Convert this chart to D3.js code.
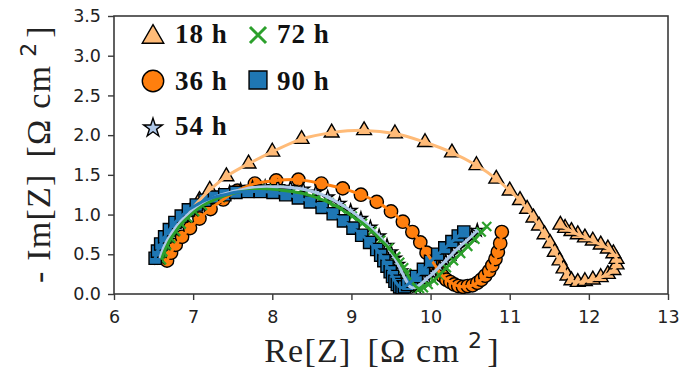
<!DOCTYPE html>
<html>
<head>
<meta charset="utf-8">
<script src="https://cdn.jsdelivr.net/npm/d3@7"></script>
<style>
  html, body { margin: 0; padding: 0; background: #fff; }
  svg { display: block; }
</style>
</head>
<body>
<svg id="chart" width="683" height="376"></svg>
<script>
// Nyquist data (Re[Z], -Im[Z]) in Ohm cm^2 for each ageing time
const re18 = [6.95,7.08,7.21,7.42,7.70,8.00,8.37,8.75,9.16,9.55,9.93,10.27,10.58,10.83,11.00,11.13,11.22,11.30,11.37,11.44,11.51,11.57,11.63,11.68,11.73,11.78,11.86,11.95,12.05,12.15,12.24,12.31,12.35,12.35,12.31,12.24,12.15,12.05,11.95,11.86,11.78,11.70,11.64];
const im18 = [1.03,1.18,1.31,1.48,1.64,1.79,1.95,2.03,2.06,2.02,1.91,1.78,1.62,1.45,1.30,1.18,1.07,0.96,0.86,0.75,0.64,0.53,0.42,0.32,0.23,0.17,0.15,0.16,0.18,0.21,0.25,0.30,0.37,0.44,0.51,0.57,0.62,0.67,0.71,0.75,0.79,0.83,0.87];

const re36 = [6.67,6.72,6.78,6.86,6.96,7.08,7.22,7.38,7.56,7.78,8.05,8.33,8.62,8.89,9.12,9.32,9.50,9.65,9.77,9.87,9.95,10.03,10.07,10.11,10.15,10.20,10.25,10.30,10.35,10.41,10.47,10.53,10.59,10.64,10.69,10.74,10.78,10.82,10.85,10.88,10.90];
const im36 = [0.42,0.52,0.62,0.72,0.83,0.95,1.07,1.19,1.30,1.39,1.43,1.44,1.39,1.33,1.25,1.16,1.04,0.91,0.78,0.65,0.52,0.40,0.34,0.28,0.23,0.18,0.15,0.12,0.10,0.09,0.10,0.11,0.14,0.18,0.23,0.29,0.36,0.44,0.53,0.64,0.78];

const re54 = [6.58,6.61,6.65,6.70,6.76,6.83,6.91,7.00,7.10,7.21,7.33,7.46,7.60,7.75,7.91,8.07,8.23,8.39,8.55,8.70,8.85,8.99,9.12,9.24,9.35,9.45,9.50,9.55,9.59,9.63,9.67,9.70,9.73,9.77,9.82,9.88,9.95,10.03,10.11,10.19,10.27,10.35,10.44,10.52,10.59];
const im54 = [0.45,0.54,0.63,0.72,0.81,0.90,0.98,1.06,1.13,1.19,1.24,1.28,1.31,1.34,1.35,1.35,1.34,1.32,1.28,1.22,1.14,1.05,0.95,0.84,0.73,0.61,0.53,0.45,0.37,0.29,0.21,0.15,0.10,0.08,0.09,0.13,0.19,0.26,0.34,0.42,0.50,0.58,0.66,0.73,0.80];

const re72 = [6.60,6.63,6.67,6.72,6.78,6.85,6.93,7.02,7.12,7.23,7.35,7.48,7.62,7.77,7.93,8.09,8.25,8.41,8.57,8.72,8.87,9.01,9.14,9.26,9.37,9.47,9.56,9.61,9.66,9.70,9.74,9.78,9.82,9.86,9.91,9.97,10.04,10.11,10.20,10.29,10.38,10.47,10.56,10.64,10.71];
const im72 = [0.43,0.52,0.61,0.70,0.79,0.88,0.96,1.04,1.11,1.17,1.22,1.26,1.29,1.31,1.32,1.31,1.29,1.26,1.21,1.15,1.07,0.98,0.89,0.79,0.68,0.58,0.47,0.40,0.33,0.26,0.19,0.13,0.09,0.07,0.08,0.12,0.17,0.24,0.33,0.42,0.51,0.60,0.69,0.78,0.85];

const re90 = [6.52,6.55,6.59,6.64,6.70,6.77,6.85,6.94,7.04,7.15,7.27,7.40,7.54,7.69,7.85,8.01,8.17,8.33,8.48,8.63,8.77,8.90,9.02,9.13,9.23,9.32,9.37,9.41,9.45,9.49,9.52,9.55,9.58,9.61,9.64,9.67,9.71,9.76,9.82,9.91,10.00,10.09,10.18,10.27,10.35,10.42];
const im90 = [0.45,0.54,0.63,0.72,0.81,0.90,0.98,1.06,1.12,1.18,1.22,1.25,1.28,1.29,1.29,1.28,1.25,1.21,1.16,1.09,1.01,0.92,0.83,0.74,0.65,0.56,0.49,0.42,0.35,0.28,0.22,0.16,0.12,0.09,0.08,0.09,0.12,0.16,0.22,0.31,0.41,0.50,0.58,0.66,0.73,0.78];

const seriesNames = ["18 h", "36 h", "54 h", "72 h", "90 h"];
const xTicks = [6, 7, 8, 9, 10, 11, 12, 13];
const yTicks = [0.0, 0.5, 1.0, 1.5, 2.0, 2.5, 3.0, 3.5];

const series = [
  { name: seriesNames[0], re: re18, im: im18, fill: "#ffbb78", line: "#ffbb78", shape: "triangle" },
  { name: seriesNames[1], re: re36, im: im36, fill: "#ff7f0e", line: "#ff7f0e", shape: "circle" },
  { name: seriesNames[2], re: re54, im: im54, fill: "#aec7e8", line: "#aec7e8", shape: "star" },
  { name: seriesNames[3], re: re72, im: im72, fill: "#2ca02c", line: "#2ca02c", shape: "cross" },
  { name: seriesNames[4], re: re90, im: im90, fill: "#1f77b4", line: "#1f77b4", shape: "square" }
];

const svg = d3.select("#chart");
const plot = { left: 114, right: 668, top: 16, bottom: 294 };

const x = d3.scaleLinear().domain([6, 13]).range([plot.left, plot.right]);
const y = d3.scaleLinear().domain([0, 3.5]).range([plot.bottom, plot.top]);

const axisColor = "#3a3a3a";

// axes
const xAxis = svg.append("g")
  .attr("transform", `translate(0,${plot.bottom})`)
  .call(d3.axisBottom(x).tickValues(xTicks).tickFormat(d3.format("d")).tickSizeOuter(0).tickSize(6).tickPadding(10));
const yAxis = svg.append("g")
  .attr("transform", `translate(${plot.left},0)`)
  .call(d3.axisLeft(y).tickValues(yTicks).tickFormat(d3.format(".1f")).tickSizeOuter(0).tickSize(6).tickPadding(7));

[xAxis, yAxis].forEach(g => {
  g.select(".domain").remove();
  g.selectAll(".tick line").attr("stroke", axisColor).attr("stroke-width", 1.4);
  g.selectAll(".tick text")
    .attr("font-family", "DejaVu Sans")
    .attr("font-size", 17.5)
    .attr("fill", "#222");
});
xAxis.selectAll(".tick text").attr("dy", "0.73em");

// frame
svg.append("rect")
  .attr("x", plot.left).attr("y", plot.top)
  .attr("width", plot.right - plot.left).attr("height", plot.bottom - plot.top)
  .attr("fill", "none").attr("stroke", axisColor).attr("stroke-width", 1.6);

svg.append("defs").append("clipPath").attr("id", "plotclip")
  .append("rect")
  .attr("x", plot.left).attr("y", plot.top)
  .attr("width", plot.right - plot.left).attr("height", plot.bottom - plot.top);

const layer = svg.append("g").attr("clip-path", "url(#plotclip)");

function symbolFor(shape, size) {
  const map = {
    triangle: d3.symbolTriangle,
    circle: d3.symbolCircle,
    star: d3.symbolStar,
    cross: d3.symbolTimes,
    square: d3.symbolSquare
  };
  return d3.symbol().type(map[shape]).size(size)();
}

const markerSize = { triangle: 95, circle: 140, star: 50, cross: 55, square: 150 };

function drawMarker(g, s, px, py, size, crossWidth) {
  const p = g.append("path")
    .attr("d", symbolFor(s.shape, size))
    .attr("transform", `translate(${px},${py})`);
  if (s.shape === "cross") {
    p.attr("fill", "none").attr("stroke", s.fill).attr("stroke-width", crossWidth || 2.2);
  } else {
    p.attr("fill", s.fill).attr("stroke", "#000").attr("stroke-width", 1.4);
  }
  return p;
}

// markers
series.forEach(s => {
  const g = layer.append("g");
  s.re.forEach((r, i) => drawMarker(g, s, x(r), y(s.im[i]), markerSize[s.shape]));
});

// fitted curves
const line = d3.line().x(d => x(d[0])).y(d => y(d[1])).curve(d3.curveCatmullRom);
series.forEach(s => {
  layer.append("path")
    .datum(s.re.map((r, i) => [r, s.im[i]]))
    .attr("d", line)
    .attr("fill", "none")
    .attr("stroke", s.line)
    .attr("stroke-width", 3)
    .attr("stroke-linejoin", "round");
});

// legend
const legendRows = [
  { s: series[0], mx: 153, tx: 175, y: 37, base: 43 },
  { s: series[3], mx: 258, tx: 277, y: 35, base: 43 },
  { s: series[1], mx: 153, tx: 175, y: 81, base: 90 },
  { s: series[4], mx: 258, tx: 277, y: 80, base: 90 },
  { s: series[2], mx: 153, tx: 175, y: 128, base: 135 }
];
const legendSize = { triangle: 200, circle: 360, star: 110, cross: 170, square: 320 };
const lg = svg.append("g");
legendRows.forEach(r => {
  drawMarker(lg, r.s, r.mx, r.y, legendSize[r.s.shape], 3);
  lg.append("text")
    .attr("x", r.tx).attr("y", r.base)
    .attr("font-family", "Liberation Serif")
    .attr("font-weight", "bold")
    .attr("font-size", 27)
    .attr("letter-spacing", 1)
    .attr("fill", "#111")
    .text(r.s.name);
});

// axis titles: name, unit in brackets, superscript 2 set in the sans face
function axisTitle(sel, name) {
  sel.attr("text-anchor", "middle")
    .attr("font-family", "Liberation Serif")
    .attr("font-size", 34)
    .attr("letter-spacing", 1.2)
    .attr("fill", "#222");
  sel.append("tspan").text(name);
  sel.append("tspan").attr("dx", 16).text("[Ω cm");
  sel.append("tspan").attr("dx", 8).attr("dy", -14)
    .attr("font-family", "DejaVu Sans").attr("font-size", 22).text("2");
  sel.append("tspan").attr("dx", 4).attr("dy", 14).text("]");
}

axisTitle(svg.append("text").attr("x", 382).attr("y", 362), "Re[Z]");
axisTitle(svg.append("text").attr("transform", "translate(50,154) rotate(-90)"), "- Im[Z]");
</script>
</body>
</html>
